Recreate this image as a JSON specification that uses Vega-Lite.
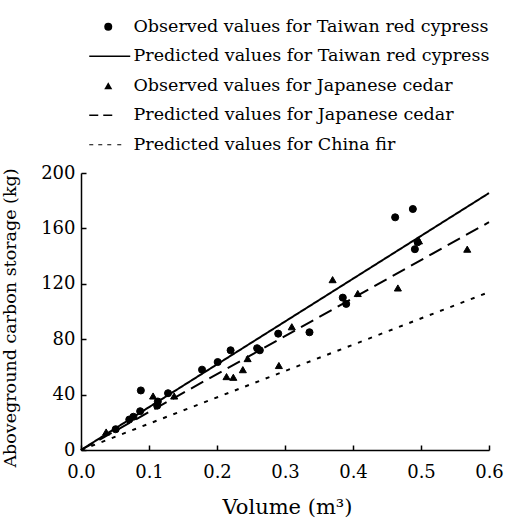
{
  "$schema": "https://vega.github.io/schema/vega-lite/v6.json",
  "width": 408,
  "height": 277,
  "autosize": "none",
  "padding": {"left": 81, "top": 173, "right": 16, "bottom": 71},
  "background": "white",
  "config": {"view": {"stroke": null}, "font": "DejaVu Serif"},
  "datasets": {
    "obs": [
      {"series": "Observed values for Taiwan red cypress", "v": 0.051, "c": 15},
      {"series": "Observed values for Taiwan red cypress", "v": 0.071, "c": 22},
      {"series": "Observed values for Taiwan red cypress", "v": 0.077, "c": 24},
      {"series": "Observed values for Taiwan red cypress", "v": 0.087, "c": 28},
      {"series": "Observed values for Taiwan red cypress", "v": 0.088, "c": 43},
      {"series": "Observed values for Taiwan red cypress", "v": 0.112, "c": 32},
      {"series": "Observed values for Taiwan red cypress", "v": 0.113, "c": 35},
      {"series": "Observed values for Taiwan red cypress", "v": 0.128, "c": 41},
      {"series": "Observed values for Taiwan red cypress", "v": 0.178, "c": 58},
      {"series": "Observed values for Taiwan red cypress", "v": 0.201, "c": 63.5},
      {"series": "Observed values for Taiwan red cypress", "v": 0.22, "c": 72},
      {"series": "Observed values for Taiwan red cypress", "v": 0.259, "c": 73.5},
      {"series": "Observed values for Taiwan red cypress", "v": 0.263, "c": 72},
      {"series": "Observed values for Taiwan red cypress", "v": 0.29, "c": 84},
      {"series": "Observed values for Taiwan red cypress", "v": 0.336, "c": 85},
      {"series": "Observed values for Taiwan red cypress", "v": 0.385, "c": 110},
      {"series": "Observed values for Taiwan red cypress", "v": 0.39, "c": 105.5},
      {"series": "Observed values for Taiwan red cypress", "v": 0.462, "c": 168},
      {"series": "Observed values for Taiwan red cypress", "v": 0.488, "c": 174},
      {"series": "Observed values for Taiwan red cypress", "v": 0.491, "c": 145},
      {"series": "Observed values for Taiwan red cypress", "v": 0.495, "c": 150},
      {"series": "Observed values for Japanese cedar", "v": 0.037, "c": 13},
      {"series": "Observed values for Japanese cedar", "v": 0.106, "c": 39},
      {"series": "Observed values for Japanese cedar", "v": 0.137, "c": 39},
      {"series": "Observed values for Japanese cedar", "v": 0.214, "c": 53},
      {"series": "Observed values for Japanese cedar", "v": 0.224, "c": 52.5},
      {"series": "Observed values for Japanese cedar", "v": 0.238, "c": 58},
      {"series": "Observed values for Japanese cedar", "v": 0.245, "c": 66},
      {"series": "Observed values for Japanese cedar", "v": 0.291, "c": 61},
      {"series": "Observed values for Japanese cedar", "v": 0.31, "c": 89},
      {"series": "Observed values for Japanese cedar", "v": 0.37, "c": 123},
      {"series": "Observed values for Japanese cedar", "v": 0.407, "c": 113},
      {"series": "Observed values for Japanese cedar", "v": 0.466, "c": 117},
      {"series": "Observed values for Japanese cedar", "v": 0.497, "c": 151},
      {"series": "Observed values for Japanese cedar", "v": 0.568, "c": 145}
    ],
    "pred": [
      {"series": "Predicted values for Taiwan red cypress", "v": 0, "c": 0},
      {"series": "Predicted values for Taiwan red cypress", "v": 0.6, "c": 185.5},
      {"series": "Predicted values for Japanese cedar", "v": 0, "c": 0},
      {"series": "Predicted values for Japanese cedar", "v": 0.6, "c": 164.5},
      {"series": "Predicted values for China fir", "v": 0, "c": 0},
      {"series": "Predicted values for China fir", "v": 0.6, "c": 114}
    ]
  },
  "layer": [
    {
      "data": {"name": "pred"},
      "mark": {"type": "line", "color": "black", "strokeWidth": 2},
      "encoding": {
        "x": {
          "field": "v", "type": "quantitative",
          "scale": {"domain": [0, 0.6], "nice": false, "zero": false},
          "axis": {
            "values": [0, 0.1, 0.2, 0.3, 0.4, 0.5, 0.6],
            "format": ".1f",
            "grid": false,
            "tickSize": -5,
            "labelPadding": 18,
            "labelFont": "DejaVu Serif",
            "labelFontSize": 18,
            "labelColor": "black",
            "labelFlush": false,
            "labelOverlap": false,
            "domainColor": "black",
            "tickColor": "black",
            "domainWidth": 1.5,
            "tickWidth": 1.5,
            "title": "Volume (m³)",
            "titleFont": "DejaVu Serif",
            "titleFontSize": 21,
            "titleFontWeight": "normal",
            "titleColor": "black",
            "titleX": 206,
            "titleY": 63,
            "titleAlign": "center",
            "titleBaseline": "alphabetic"
          }
        },
        "y": {
          "field": "c", "type": "quantitative",
          "scale": {"domain": [0, 200], "nice": false},
          "axis": {
            "values": [0, 40, 80, 120, 160, 200],
            "grid": false,
            "tickSize": -5,
            "labelPadding": 11,
            "labelFont": "DejaVu Serif",
            "labelFontSize": 18,
            "labelColor": "black",
            "labelFlush": false,
            "labelOverlap": false,
            "domainColor": "black",
            "tickColor": "black",
            "domainWidth": 1.5,
            "tickWidth": 1.5,
            "title": "Aboveground carbon storage (kg)",
            "titleFont": "DejaVu Serif",
            "titleFontSize": 17.5,
            "titleFontWeight": "normal",
            "titleColor": "black",
            "titleX": -66,
            "titleY": 144.5,
            "titleAngle": -90,
            "titleAlign": "center",
            "titleBaseline": "alphabetic"
          }
        },
        "strokeDash": {
          "field": "series", "type": "nominal",
          "scale": {
            "domain": ["Predicted values for Taiwan red cypress", "Predicted values for Japanese cedar", "Predicted values for China fir"],
            "range": [[1, 0], [14, 7], [4, 7]]
          },
          "legend": null
        }
      }
    },
    {
      "data": {"name": "obs"},
      "mark": {"type": "point", "filled": true, "fill": "black", "stroke": "black", "strokeWidth": 1, "size": 50, "opacity": 1},
      "encoding": {
        "x": {"field": "v", "type": "quantitative"},
        "y": {"field": "c", "type": "quantitative"},
        "shape": {
          "field": "series", "type": "nominal",
          "scale": {
            "domain": [
              "Observed values for Taiwan red cypress",
              "Predicted values for Taiwan red cypress",
              "Observed values for Japanese cedar",
              "Predicted values for Japanese cedar",
              "Predicted values for China fir"
            ],
            "range": [
              "circle",
              "M-4.75,-0.2H5.5V0.2H-4.75Z",
              "triangle-up",
              "M-4.75,-0.2H-2.5V0.2H-4.75ZM-1.25,-0.2H1V0.2H-1.25Z",
              "M-4.75,-0.15H-3.75V0.15H-4.75ZM-2.5,-0.15H-1.5V0.15H-2.5ZM-0.25,-0.15H0.75V0.15H-0.25ZM2.25,-0.15H3.25V0.15H2.25Z"
            ]
          },
          "legend": {
            "orient": "none",
            "legendX": 18.5,
            "legendY": -155,
            "title": null,
            "padding": 0,
            "labelFont": "DejaVu Serif",
            "labelFontSize": 17.5,
            "labelColor": "black",
            "labelLimit": 0,
            "labelOffset": 16.5,
            "symbolSize": 64,
            "symbolStrokeWidth": 1,
            "symbolStrokeColor": "black",
            "symbolFillColor": "black",
            "rowPadding": 10.5
          }
        }
      }
    }
  ]
}
